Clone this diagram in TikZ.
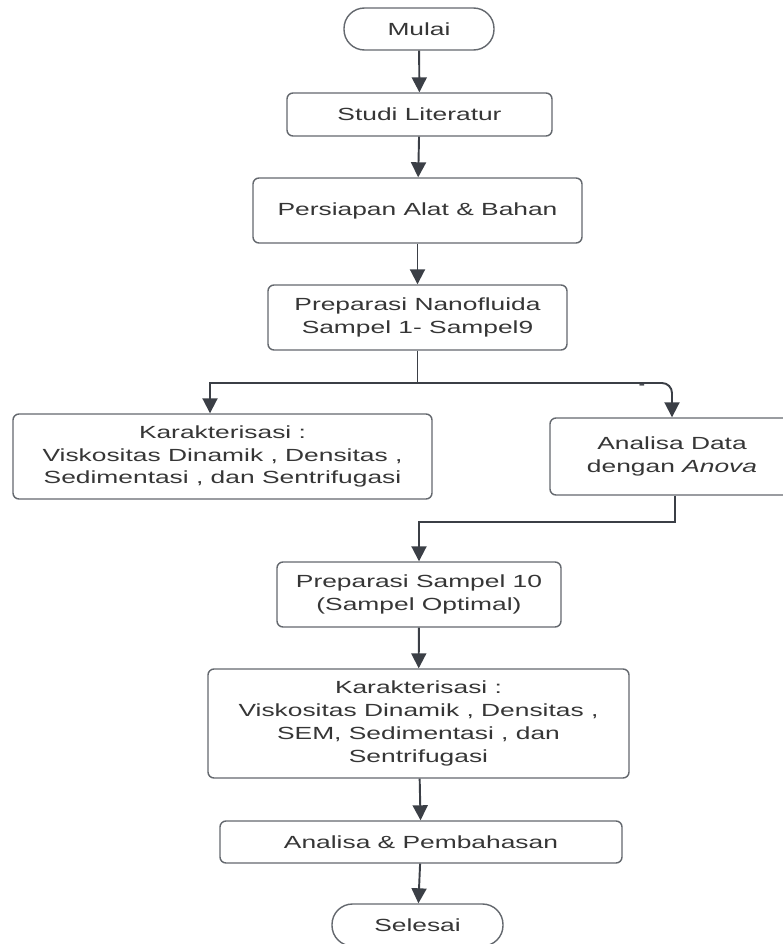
\documentclass[tikz,border=0pt]{standalone}
\usepackage{fontspec}
\setmainfont{Liberation Sans}[FakeStretch=1.5]
\usepackage{tikz}
\usetikzlibrary{arrows.meta}
\definecolor{linec}{HTML}{3B3F46}
\definecolor{boxc}{HTML}{64686E}
\definecolor{textc}{HTML}{363636}
\tikzstyle{startstop} = [rectangle, 
rounded corners=0.41cm, 
minimum width=3cm, 
minimum height=0.84cm, 
text centered, 
draw=boxc, 
line width=0.8pt,
text=textc,
fill=white]
\tikzstyle{process} = [rectangle, 
rounded corners=0.12cm, 
minimum width=5.3cm, 
minimum height=0.86cm, 
align=center, 
draw=boxc, 
line width=0.8pt,
text=textc,
fill=white]
\tikzstyle{arrow} = [line width=1.1pt, draw=linec, -{Triangle[width=0.3cm,length=0.3cm]}]

\begin{document}
\begin{tikzpicture}[font=\fontsize{10}{13}\selectfont]
    \useasboundingbox (0,0) rectangle (15.64,-18.88);
    \node (mulai) [startstop] at (8.38,-0.58) {Mulai};
    \node (studi) [process] at (8.39,-2.29) {Studi Literatur};
    \node (persiapan) [process, minimum width=6.58cm, minimum height=1.3cm] at (8.35,-4.21) {Persiapan Alat \& Bahan};
    \node (nano) [process, minimum width=5.98cm, minimum height=1.3cm] at (8.35,-6.35) {Preparasi Nanofluida\\Sampel 1- Sampel9};

    \node (kar1) [process, minimum width=8.38cm, minimum height=1.7cm] at (4.45,-9.13) {Karakterisasi :\\Viskositas Dinamik , Densitas ,\\Sedimentasi , dan Sentrifugasi};
    \node (anova) [process, minimum width=4.88cm, minimum height=1.54cm] at (13.44,-9.13) {Analisa Data\\dengan \textit{Anova}};

    \node (sampel) [process, minimum width=5.68cm, minimum height=1.3cm] at (8.38,-11.89) {Preparasi Sampel 10\\(Sampel Optimal)};
    \node (kar2) [process, minimum width=8.42cm, minimum height=2.18cm] at (8.37,-14.47) {Karakterisasi :\\Viskositas Dinamik , Densitas ,\\SEM, Sedimentasi , dan\\Sentrifugasi};
    \node (bahas) [process, minimum width=8.04cm, minimum height=0.84cm] at (8.42,-16.84) {Analisa \& Pembahasan};
    \node (selesai) [startstop, minimum width=3.42cm] at (8.35,-18.5) {Selesai};

    \coordinate (split) at (nano.south |- 0,-7.66);
    \coordinate (left) at (4.2,-7.66);
    \coordinate (join) at (13.5,-10.44);
    \node (tick) [text=linec, font=\bfseries\scriptsize, inner sep=0pt] at (12.84,-7.74) {-};

    \draw [arrow] (mulai) -- (studi);
    \draw [arrow] (studi) -- (persiapan);
    \draw [arrow] (persiapan) -- (nano);
    \draw [line width=1.1pt, draw=linec] (nano) -- (split);
    \draw [arrow] (split) -- (left) -- (left |- kar1.north);
    \draw [arrow, rounded corners=0.2cm] (split) -| (anova.north);
    \draw [arrow] (anova.south -| join) -- (join) -| (sampel.north);
    \draw [arrow] (sampel) -- (kar2);
    \draw [arrow] (kar2) -- (bahas);
    \draw [arrow] (bahas) -- (selesai);
\end{tikzpicture}
\end{document}
